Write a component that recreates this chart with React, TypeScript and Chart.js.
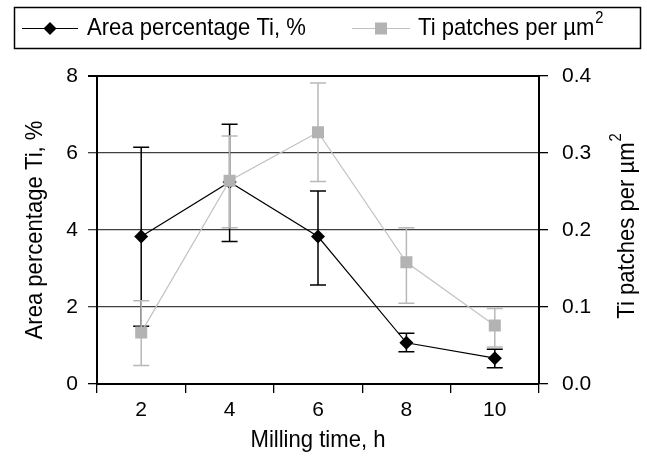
import React, { useEffect, useRef } from 'react';
import { Chart, registerables } from 'chart.js';

Chart.register(...registerables);

// ---- data ----
const categories = ['2', '4', '6', '8', '10'];
const areaPct = [3.83, 5.25, 3.83, 1.07, 0.67];
const areaPctHigh = [6.15, 6.75, 5.01, 1.32, 0.9];
const areaPctLow = [1.5, 3.7, 2.57, 0.84, 0.42];
const patches = [0.067, 0.264, 0.327, 0.158, 0.076];
const patchesHigh = [0.108, 0.322, 0.391, 0.203, 0.098];
const patchesLow = [0.024, 0.203, 0.263, 0.105, 0.048];
const leftTicks = [0, 2, 4, 6, 8];
const rightTicks = [0, 0.1, 0.2, 0.3, 0.4];

const seriesNames = ['Area percentage Ti, %', 'Ti patches per µm'];
const xTitle = 'Milling time, h';
const leftTitle = 'Area percentage Ti, %';
const rightTitle = 'Ti patches per µm';
const superscript = '2';

const FONT = '"Liberation Sans", Arial, Helvetica, sans-serif';
const BLACK = '#000000';
const GRAY_LINE = '#c2c2c2';
const GRAY_BAR = '#b8b8b8';
const GRAY_MARK = '#b3b3b3';
const TXT = 24; // custom text size
const SQX = 0.92; // horizontal squeeze of custom text
const TICK_SIZE = 21;

const errHigh = [areaPctHigh, patchesHigh];
const errLow = [areaPctLow, patchesLow];
const errColors = [BLACK, GRAY_BAR];

const errorBarPlugin = {
  id: 'errorBars',
  beforeDatasetDraw(chart: any, args: any) {
    const i = args.index;
    const meta = args.meta;
    const yScale = chart.scales[meta.yAxisID];
    const ctx = chart.ctx;
    ctx.save();
    ctx.strokeStyle = errColors[i];
    ctx.lineWidth = 1.5;
    meta.data.forEach((pt: any, j: number) => {
      const x = pt.x;
      const yh = yScale.getPixelForValue(errHigh[i][j]);
      const yl = yScale.getPixelForValue(errLow[i][j]);
      ctx.beginPath();
      ctx.moveTo(x, yh);
      ctx.lineTo(x, yl);
      ctx.moveTo(x - 8, yh);
      ctx.lineTo(x + 8, yh);
      ctx.moveTo(x - 8, yl);
      ctx.lineTo(x + 8, yl);
      ctx.stroke();
    });
    ctx.restore();
  },
};

// draws text (optionally with superscript) squeezed horizontally; origin at (x,y)
function drawText(
  ctx: CanvasRenderingContext2D,
  text: string,
  sup: string,
  x: number,
  y: number,
  size: number,
  align: 'left' | 'center'
) {
  ctx.save();
  ctx.translate(x, y);
  ctx.scale(SQX, 1);
  ctx.font = `${size}px ${FONT}`;
  const w1 = ctx.measureText(text).width;
  const supSize = Math.round(size * 0.68);
  ctx.font = `${supSize}px ${FONT}`;
  const w2 = sup ? ctx.measureText(sup).width + 1 : 0;
  const total = w1 + w2;
  const sx = align === 'center' ? -total / 2 : 0;
  ctx.textAlign = 'left';
  ctx.textBaseline = 'middle';
  ctx.font = `${size}px ${FONT}`;
  ctx.fillText(text, sx, 0);
  if (sup) {
    ctx.font = `${supSize}px ${FONT}`;
    ctx.fillText(sup, sx + w1 + 1, -size * 0.42);
  }
  ctx.restore();
}

const decorPlugin = {
  id: 'decor',
  afterDraw(chart: any) {
    const ctx: CanvasRenderingContext2D = chart.ctx;
    const area = chart.chartArea;
    ctx.save();
    ctx.fillStyle = BLACK;
    // legend box
    ctx.strokeStyle = BLACK;
    ctx.lineWidth = 1.5;
    ctx.strokeRect(14.5, 7.5, 626, 41);
    const ly = 28.5;
    // series 1 legend
    ctx.strokeStyle = BLACK;
    ctx.lineWidth = 1.2;
    ctx.beginPath();
    ctx.moveTo(22, ly);
    ctx.lineTo(78, ly);
    ctx.stroke();
    ctx.beginPath();
    ctx.moveTo(50 - 6.5, ly);
    ctx.lineTo(50, ly - 6.5);
    ctx.lineTo(50 + 6.5, ly);
    ctx.lineTo(50, ly + 6.5);
    ctx.closePath();
    ctx.fill();
    drawText(ctx, seriesNames[0], '', 87, ly, TXT, 'left');
    // series 2 legend
    ctx.strokeStyle = GRAY_LINE;
    ctx.beginPath();
    ctx.moveTo(352, ly);
    ctx.lineTo(410, ly);
    ctx.stroke();
    ctx.fillStyle = GRAY_MARK;
    ctx.fillRect(381 - 6, ly - 6, 12, 12);
    ctx.fillStyle = BLACK;
    drawText(ctx, seriesNames[1], superscript, 418, ly, TXT, 'left');

    // x title
    drawText(ctx, xTitle, '', (area.left + area.right) / 2, 440, TXT, 'center');

    // left title
    ctx.save();
    ctx.translate(35, (area.top + area.bottom) / 2);
    ctx.rotate(-Math.PI / 2);
    drawText(ctx, leftTitle, '', 0, 0, TXT, 'center');
    ctx.restore();

    // right title
    ctx.save();
    ctx.translate(627, 226);
    ctx.rotate(-Math.PI / 2);
    drawText(ctx, rightTitle, superscript, 0, 0, TXT, 'center');
    ctx.restore();
    ctx.restore();
  },
};

export default function App() {
  const ref = useRef<HTMLCanvasElement>(null);
  useEffect(() => {
    const canvas = ref.current;
    if (!canvas) return;
    const chart = new Chart(canvas, {
      type: 'line',
      data: {
        labels: categories,
        datasets: [
          {
            label: seriesNames[0],
            data: areaPct,
            yAxisID: 'y',
            borderColor: BLACK,
            borderWidth: 1.2,
            pointStyle: 'rectRot',
            pointRadius: 7,
            pointBackgroundColor: BLACK,
            pointBorderColor: BLACK,
            pointBorderWidth: 0,
            fill: false,
            tension: 0,
            order: 2,
          },
          {
            label: seriesNames[1],
            data: patches,
            yAxisID: 'y1',
            borderColor: GRAY_LINE,
            borderWidth: 1.2,
            pointStyle: 'rect',
            pointRadius: 8.5,
            pointBackgroundColor: GRAY_MARK,
            pointBorderColor: GRAY_MARK,
            pointBorderWidth: 0,
            fill: false,
            tension: 0,
            order: 1,
          },
        ],
      },
      options: {
        responsive: false,
        animation: false,
        layout: { padding: { top: 76, left: 0, right: 0, bottom: 0 } },
        plugins: {
          legend: { display: false },
          tooltip: { enabled: false },
        },
        scales: {
          x: {
            type: 'category',
            offset: true,
            grid: {
              offset: true,
              drawOnChartArea: false,
              drawTicks: true,
              tickLength: 9,
              color: BLACK,
              lineWidth: 1.3,
            },
            border: { display: true, color: BLACK, width: 2 },
            ticks: {
              color: BLACK,
              font: { family: FONT, size: TICK_SIZE },
              padding: 5,
              maxRotation: 0,
            },
            afterFit: (s: any) => {
              s.height = 75;
            },
          },
          y: {
            position: 'left',
            min: 0,
            max: 8,
            afterBuildTicks: (s: any) => {
              s.ticks = leftTicks.map((v) => ({ value: v }));
            },
            ticks: {
              color: BLACK,
              font: { family: FONT, size: TICK_SIZE },
              padding: 10,
              callback: (v: any) => String(v),
            },
            grid: {
              drawTicks: true,
              tickLength: 9,
              color: (c: any) => (c.tick && (c.tick.value === 8 || c.tick.value === 0) ? BLACK : '#404040'),
              lineWidth: (c: any) => (c.tick && c.tick.value === 8 ? 2 : 1.3),
            },
            border: { display: true, color: BLACK, width: 2 },
            afterFit: (s: any) => {
              s.width = 97;
            },
          },
          y1: {
            position: 'right',
            min: 0,
            max: 0.4,
            afterBuildTicks: (s: any) => {
              s.ticks = rightTicks.map((v) => ({ value: v }));
            },
            ticks: {
              color: BLACK,
              font: { family: FONT, size: TICK_SIZE },
              padding: 14,
              callback: (v: any) => Number(v).toFixed(1),
            },
            grid: {
              drawOnChartArea: false,
              drawTicks: true,
              tickLength: 9,
              color: BLACK,
              lineWidth: 1.3,
            },
            border: { display: true, color: BLACK, width: 2 },
            afterFit: (s: any) => {
              s.width = 108;
            },
          },
        },
      },
      plugins: [errorBarPlugin, decorPlugin],
    });
    return () => chart.destroy();
  }, []);
  return (
    <div style={{ position: 'fixed', left: 0, top: 0, width: 647, height: 459, background: '#fff' }}>
      <canvas ref={ref} width={647} height={459} style={{ width: 647, height: 459, display: 'block' }} />
    </div>
  );
}
